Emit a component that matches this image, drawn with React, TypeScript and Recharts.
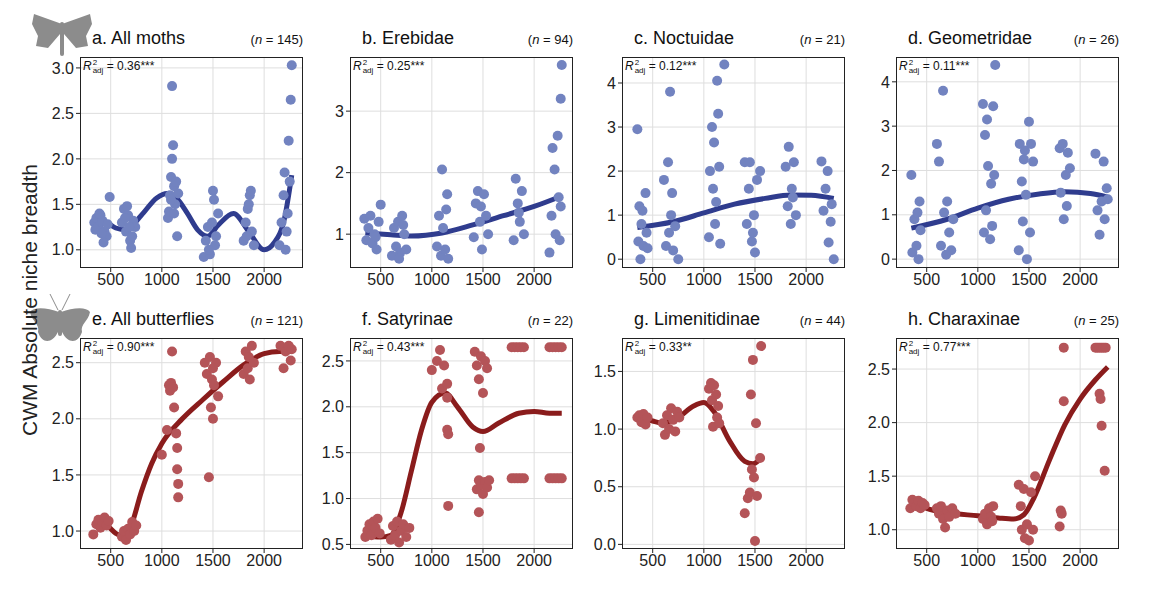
import React from 'react';
import { ComposedChart, Scatter, Line, XAxis, YAxis, CartesianGrid } from 'recharts';

// ---- data ----
const xTicks = [500, 1000, 1500, 2000];

const mothsPts = [
  [340,1.3],[360,1.35],[380,1.25],[400,1.38],[420,1.32],[440,1.2],[460,1.15],[430,1.08],[390,1.4],[490,1.58],[470,1.28],[350,1.22],[410,1.18],
  [610,1.3],[630,1.45],[650,1.2],[670,1.38],[690,1.1],[700,1.02],[720,1.32],[740,1.25],[660,1.48],[710,1.15],[640,1.35],[680,1.25],
  [1060,1.35],[1080,1.6],[1090,1.8],[1100,2.0],[1110,2.15],[1100,2.8],[1120,1.7],[1130,1.5],[1140,1.75],[1150,1.15],[1070,1.42],[1160,1.62],[1090,1.55],[1120,1.4],
  [1410,0.92],[1430,1.1],[1450,1.25],[1470,0.95],[1490,1.3],[1500,1.65],[1510,1.55],[1530,1.15],[1550,1.4],[1520,1.05],[1460,1.0],
  [1800,1.1],[1820,1.3],[1840,1.45],[1860,1.6],[1870,1.65],[1880,1.2],[1900,1.05],[1850,1.5],[1830,1.15],
  [2150,1.05],[2170,1.3],[2190,1.6],[2200,1.85],[2210,1.0],[2230,1.4],[2240,2.2],[2260,2.65],[2270,3.03],[2250,1.75],[2220,1.2],
];
const mothsCurve = [
  [350,1.28],[450,1.3],[550,1.24],[650,1.22],[800,1.38],[950,1.57],[1050,1.62],[1150,1.56],[1250,1.4],[1350,1.22],[1450,1.15],
  [1550,1.27],[1700,1.4],[1850,1.2],[2000,1.0],[2100,1.08],[2200,1.35],[2270,1.82],
];

const erebPts = [
  [340,1.25],[360,0.9],[380,1.1],[400,1.3],[420,0.85],[440,1.0],[460,0.75],[480,1.2],[500,1.48],[450,0.95],
  [610,0.65],[630,1.1],[650,0.8],[670,1.2],[690,0.7],[710,1.3],[730,1.0],[750,0.75],[680,0.6],[720,1.15],
  [1050,0.8],[1070,1.3],[1090,0.65],[1100,2.05],[1110,1.1],[1130,0.75],[1150,1.65],[1160,0.6],[1140,1.4],
  [1410,0.95],[1430,1.5],[1450,1.7],[1470,1.2],[1490,0.75],[1510,1.65],[1530,1.3],[1550,1.0],[1480,1.45],
  [1800,0.9],[1820,1.9],[1840,1.5],[1860,1.2],[1880,1.7],[1900,1.0],[1850,1.35],
  [2150,0.7],[2170,1.3],[2180,2.4],[2200,2.05],[2210,1.0],[2230,2.6],[2240,1.6],[2250,0.9],[2260,3.2],[2270,3.75],[2260,1.45],
];
const erebCurve = [[350,1.02],[600,0.99],[800,0.97],[1100,1.02],[1400,1.15],[1700,1.3],[2000,1.45],[2270,1.62]];

const noctPts = [
  [350,2.95],[360,0.4],[370,1.2],[380,0.0],[390,0.8],[400,1.1],[410,0.3],[430,1.5],[440,0.6],[450,0.25],
  [610,1.8],[630,0.3],[650,2.2],[660,0.6],[670,3.8],[680,1.0],[690,1.5],[700,0.2],[720,0.75],[750,0.0],
  [1050,0.5],[1060,2.0],[1080,3.0],[1090,1.6],[1100,2.65],[1110,0.8],[1130,4.05],[1140,3.3],[1150,2.1],[1160,0.35],[1200,4.42],[1120,1.3],
  [1400,2.2],[1420,0.8],[1440,1.6],[1450,2.2],[1470,0.4],[1490,1.0],[1500,0.15],[1520,1.8],[1550,2.0],[1480,0.6],
  [1800,2.1],[1820,1.2],[1830,2.55],[1850,0.8],[1860,1.6],[1880,2.2],[1900,1.0],[1870,1.4],
  [2150,2.22],[2170,1.1],[2190,1.6],[2210,2.0],[2220,0.38],[2240,0.85],[2250,1.25],[2270,0.0],
];
const noctCurve = [[350,0.72],[700,0.85],[1000,1.05],[1300,1.25],[1600,1.38],[1850,1.46],[2050,1.45],[2270,1.38]];

const geomPts = [
  [350,1.9],[360,0.15],[380,0.9],[400,0.3],[410,1.05],[420,0.0],[430,1.3],[440,0.65],
  [600,2.6],[620,2.2],[640,0.3],[660,3.8],[670,1.05],[690,0.1],[700,1.3],[720,0.6],[740,0.2],[760,0.9],
  [1050,3.5],[1060,0.6],[1070,2.8],[1080,1.1],[1090,3.15],[1100,2.1],[1120,0.45],[1130,1.7],[1150,3.45],[1160,1.9],[1170,4.38],[1140,0.75],
  [1400,0.2],[1410,2.6],[1430,1.75],[1440,0.85],[1450,2.25],[1460,2.45],[1480,0.0],[1500,3.1],[1510,0.6],[1520,2.6],[1540,2.2],[1470,1.45],
  [1800,2.5],[1810,1.5],[1830,2.6],[1840,0.9],[1860,1.9],[1870,1.2],[1880,2.4],[1900,2.05],
  [2150,2.38],[2170,1.1],[2190,0.55],[2210,1.3],[2230,2.2],[2240,0.9],[2260,1.6],[2270,1.35],
];
const geomCurve = [[350,0.7],[700,0.9],[1000,1.15],[1300,1.35],[1600,1.47],[1850,1.52],[2100,1.48],[2270,1.4]];

const allButPts = [
  [330,0.97],[360,1.06],[380,1.1],[400,1.03],[420,1.08],[440,1.12],[460,1.05],[480,1.09],
  [610,0.95],[630,1.0],[650,0.92],[670,1.02],[690,0.97],[710,1.08],[730,1.0],[750,1.05],
  [1000,1.68],[1050,1.9],[1070,2.3],[1080,2.25],[1090,2.32],[1100,2.6],[1110,2.28],[1120,2.1],[1140,1.87],[1150,1.74],[1150,1.55],[1160,1.42],[1160,1.3],
  [1420,2.5],[1440,2.4],[1460,1.48],[1470,2.55],[1480,2.1],[1490,2.35],[1500,2.0],[1510,2.3],[1530,2.5],[1550,2.2],[1500,2.45],
  [1800,2.4],[1820,2.6],[1840,2.45],[1850,2.55],[1860,2.35],[1880,2.65],[1900,2.5],
  [2160,2.65],[2190,2.45],[2210,2.6],[2240,2.65],[2260,2.52],[2270,2.62],
];
const allButCurve = [
  [350,1.05],[450,1.05],[550,0.98],[620,0.95],[700,1.05],[800,1.35],[900,1.6],[1000,1.78],[1200,2.0],[1400,2.17],
  [1600,2.33],[1800,2.48],[2000,2.58],[2150,2.6],[2270,2.6],
];

const satyPts = [
  [350,0.58],[370,0.65],[390,0.72],[410,0.6],[430,0.75],[450,0.68],[470,0.78],[490,0.62],
  [600,0.55],[620,0.7],[640,0.6],[660,0.75],[680,0.52],[700,0.65],[720,0.72],[750,0.58],[780,0.68],
  [1000,2.4],[1050,2.5],[1080,2.62],[1100,2.2],[1120,2.45],[1150,2.25],[1150,2.1],[1150,1.75],[1160,1.7],[1160,0.92],
  [1420,2.6],[1440,2.45],[1460,2.3],[1480,2.55],[1500,2.15],[1520,2.5],[1540,2.42],[1470,1.55],[1460,0.85],
  [1440,1.1],[1460,1.2],[1480,1.15],[1500,1.05],[1520,1.18],[1540,1.12],[1560,1.2],
  [1780,2.65],[1810,2.65],[1840,2.65],[1870,2.65],[1900,2.65],[1780,1.22],[1810,1.22],[1840,1.22],[1870,1.22],[1900,1.22],
  [2150,2.65],[2180,2.65],[2210,2.65],[2240,2.65],[2270,2.65],[2150,1.22],[2180,1.22],[2210,1.22],[2240,1.22],[2270,1.22],
];
const satyCurve = [
  [350,0.6],[500,0.58],[600,0.6],[700,0.85],[800,1.3],[900,1.75],[1000,2.05],[1130,2.15],[1250,2.0],[1400,1.78],
  [1500,1.73],[1650,1.82],[1850,1.93],[2000,1.95],[2150,1.93],[2270,1.93],
];

const limePts = [
  [350,1.1],[370,1.12],[390,1.06],[410,1.13],[430,1.04],[450,1.1],
  [600,1.05],[620,0.95],[640,1.12],[660,1.0],[680,1.18],[700,1.08],[720,0.98],[740,1.15],[760,1.1],
  [1050,1.35],[1070,1.4],[1080,1.25],[1090,1.02],[1100,1.38],[1120,1.3],[1130,1.1],[1140,1.2],[1150,1.05],
  [1400,0.27],[1430,0.4],[1450,0.45],[1460,1.3],[1470,0.65],[1480,1.6],[1490,0.58],[1500,0.03],[1510,1.05],[1520,0.42],[1550,0.75],[1560,1.72],
];
const limeCurve = [[350,1.12],[500,1.07],[600,1.05],[750,1.1],[900,1.2],[1000,1.23],[1100,1.15],[1250,0.9],[1400,0.72],[1480,0.7],[1560,0.75]];

const charPts = [
  [340,1.2],[360,1.28],[380,1.25],[400,1.22],[420,1.27],[440,1.2],[460,1.25],[480,1.23],
  [600,1.2],[620,1.15],[640,1.22],[660,1.1],[680,1.02],[700,1.18],[720,1.12],[750,1.2],[780,1.15],
  [1050,1.1],[1070,1.15],[1090,1.05],[1110,1.2],[1130,1.12],[1150,1.22],[1140,1.08],
  [1400,1.42],[1420,1.22],[1430,1.0],[1450,1.38],[1460,0.92],[1480,1.05],[1500,0.9],[1520,1.35],[1540,1.0],[1560,1.5],
  [1800,1.03],[1810,1.18],[1820,1.15],[1840,2.2],[1840,2.7],
  [2150,2.7],[2170,2.7],[2190,2.7],[2210,2.7],[2230,2.7],[2250,2.7],[2190,2.27],[2200,2.22],[2210,1.97],[2240,1.55],
];
const charCurve = [
  [350,1.27],[500,1.2],[700,1.16],[1000,1.13],[1200,1.11],[1350,1.1],[1450,1.14],[1550,1.3],[1700,1.65],
  [1850,1.98],[2000,2.22],[2150,2.4],[2270,2.52],
];

const toXY = (a: number[][]) => a.map(([x, y]) => ({ x, y }));

const MOTH_DOT = '#7283c0';
const MOTH_LINE = '#2f3c8e';
const BUT_DOT = '#b45458';
const BUT_LINE = '#8a1c1c';

const PW = 223;
const PH = 211;
const YW = 44;

type PanelProps = {
  left: number; top: number; title: string; n: string; r2: string;
  pts: number[][]; curve: number[][]; yDomain: number[]; yTicks: number[]; dec: number;
  dot: string; line: string;
};

function Panel({ left, top, title, n, r2, pts, curve, yDomain, yTicks, dec, dot, line }: PanelProps) {
  return (
    <>
      <div style={{ position: 'absolute', left: left + 12, top: top - 29, fontSize: 18, color: '#111' }}>{title}</div>
      <div style={{ position: 'absolute', left: left + PW - 70, width: 70, textAlign: 'right', top: top - 25, fontSize: 13, color: '#111' }}>
        (<i>n</i> = {n})
      </div>
      <div style={{ position: 'absolute', left: left - YW, top }}>
        <ComposedChart width={PW + YW} height={PH + 30} margin={{ top: 0, right: 0, left: 0, bottom: 0 }}>
          <CartesianGrid stroke="#dedede" strokeWidth={1} horizontalValues={yTicks} verticalValues={xTicks} />
          <XAxis type="number" dataKey="x" domain={[200, 2380]} ticks={xTicks} allowDataOverflow
            axisLine={false} tickLine={{ stroke: '#222' }} tickSize={4}
            tick={{ fontSize: 16, fill: '#222' }} height={30} interval={0} />
          <YAxis type="number" dataKey="y" domain={yDomain} ticks={yTicks} allowDataOverflow
            axisLine={false} tickLine={{ stroke: '#222' }} tickSize={4} width={YW}
            tick={{ fontSize: 16, fill: '#222' }} tickFormatter={(v: number) => v.toFixed(dec)} interval={0} />
          <Scatter data={toXY(pts)} isAnimationActive={false}
            shape={(p: any) => <circle cx={p.cx} cy={p.cy} r={5} fill={dot} />} />
          <Line data={toXY(curve)} dataKey="y" type="monotone" stroke={line} strokeWidth={5}
            dot={false} isAnimationActive={false} />
        </ComposedChart>
      </div>
      <div style={{ position: 'absolute', left, top, width: PW, height: PH, border: '1.3px solid #222', boxSizing: 'border-box', pointerEvents: 'none' }} />
      <div style={{ position: 'absolute', left: left + 3, top: top + 2, fontSize: 12, color: '#111' }}>
        <i>R</i><span style={{ display: 'inline-flex', flexDirection: 'column', verticalAlign: 'middle', fontSize: 8, lineHeight: '8px', marginLeft: 1 }}>
          <span>2</span><span>adj</span></span> = {r2}
      </div>
    </>
  );
}

function Moth({ x, y }: { x: number; y: number }) {
  return (
    <svg style={{ position: 'absolute', left: x, top: y }} width="64" height="46" viewBox="0 0 64 46">
      <path d="M32 12 L4 2 L2 12 L8 24 L6 34 L18 36 L30 22 Z" fill="#8c8c8c" />
      <path d="M32 12 L60 2 L62 12 L56 24 L58 34 L46 36 L34 22 Z" fill="#8c8c8c" />
      <rect x="30" y="10" width="4" height="34" rx="2" fill="#8c8c8c" />
    </svg>
  );
}

function Butterfly({ x, y }: { x: number; y: number }) {
  return (
    <svg style={{ position: 'absolute', left: x, top: y }} width="64" height="56" viewBox="0 0 64 56">
      <path d="M30 18 L22 2 M34 18 L42 2" stroke="#8c8c8c" strokeWidth="1" />
      <path d="M31 20 C20 16 6 14 2 20 C4 30 12 32 10 40 C14 52 24 52 30 40 Z" fill="#8c8c8c" />
      <path d="M33 20 C44 16 58 14 62 20 C60 30 52 32 54 40 C50 52 40 52 34 40 Z" fill="#8c8c8c" />
      <rect x="30" y="18" width="4" height="26" rx="2" fill="#8c8c8c" />
    </svg>
  );
}

export default function App() {
  return (
    <div style={{ position: 'absolute', left: 0, top: 0, width: 1157, height: 595, background: '#fff', fontFamily: 'Liberation Sans, Arial, sans-serif' }}>
      <Moth x={30} y={12} />
      <Butterfly x={28} y={292} />
      <div style={{ position: 'absolute', left: 30, top: 300, transform: 'translate(-50%,-50%) rotate(-90deg)', fontSize: 21, color: '#222', whiteSpace: 'nowrap' }}>
        CWM Absolute niche breadth
      </div>
      <Panel left={80} top={57} title="a.  All moths" n="145" r2="0.36***" pts={mothsPts} curve={mothsCurve}
        yDomain={[0.8, 3.12]} yTicks={[1, 1.5, 2, 2.5, 3]} dec={1} dot={MOTH_DOT} line={MOTH_LINE} />
      <Panel left={350} top={57} title="b.  Erebidae" n="94" r2="0.25***" pts={erebPts} curve={erebCurve}
        yDomain={[0.45, 3.88]} yTicks={[1, 2, 3]} dec={0} dot={MOTH_DOT} line={MOTH_LINE} />
      <Panel left={622} top={57} title="c.  Noctuidae" n="21" r2="0.12***" pts={noctPts} curve={noctCurve}
        yDomain={[-0.2, 4.59]} yTicks={[0, 1, 2, 3, 4]} dec={0} dot={MOTH_DOT} line={MOTH_LINE} />
      <Panel left={896} top={57} title="d.  Geometridae" n="26" r2="0.11***" pts={geomPts} curve={geomCurve}
        yDomain={[-0.2, 4.56]} yTicks={[0, 1, 2, 3, 4]} dec={0} dot={MOTH_DOT} line={MOTH_LINE} />
      <Panel left={80} top={338} title="e.  All butterflies" n="121" r2="0.90***" pts={allButPts} curve={allButCurve}
        yDomain={[0.84, 2.72]} yTicks={[1, 1.5, 2, 2.5]} dec={1} dot={BUT_DOT} line={BUT_LINE} />
      <Panel left={350} top={338} title="f.  Satyrinae" n="22" r2="0.43***" pts={satyPts} curve={satyCurve}
        yDomain={[0.45, 2.75]} yTicks={[0.5, 1, 1.5, 2, 2.5]} dec={1} dot={BUT_DOT} line={BUT_LINE} />
      <Panel left={622} top={338} title="g.  Limenitidinae" n="44" r2="0.33**" pts={limePts} curve={limeCurve}
        yDomain={[-0.04, 1.79]} yTicks={[0, 0.5, 1, 1.5]} dec={1} dot={BUT_DOT} line={BUT_LINE} />
      <Panel left={896} top={338} title="h.  Charaxinae" n="25" r2="0.77***" pts={charPts} curve={charCurve}
        yDomain={[0.82, 2.79]} yTicks={[1, 1.5, 2, 2.5]} dec={1} dot={BUT_DOT} line={BUT_LINE} />
    </div>
  );
}
